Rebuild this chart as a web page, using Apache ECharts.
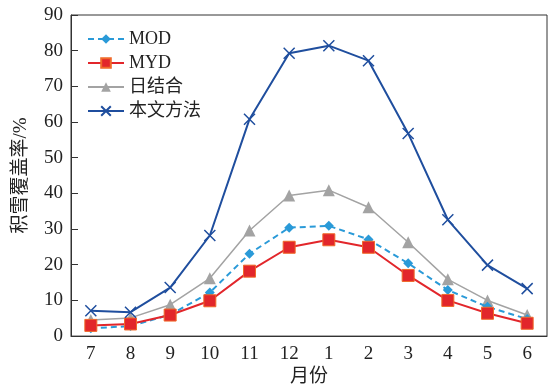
<!DOCTYPE html>
<html>
<head>
<meta charset="utf-8">
<script src="https://cdn.jsdelivr.net/npm/echarts@6/dist/echarts.min.js"></script>
<style>
  html, body { margin: 0; padding: 0; background: #fff; }
</style>
</head>
<body>
<div id="chart" style="width: 548px; height: 392px;"></div>
<script>
const months = ['7', '8', '9', '10', '11', '12', '1', '2', '3', '4', '5', '6'];
const modData = [2.2, 2.8, 6.0, 12.2, 23.1, 30.4, 30.9, 27.1, 20.4, 12.9, 8.2, 4.8];
const mydData = [3.0, 3.4, 5.9, 9.9, 18.2, 24.9, 27.0, 24.9, 17.0, 10.0, 6.4, 3.6];
const dayData = [4.5, 5.1, 8.8, 16.2, 29.6, 39.4, 40.9, 36.1, 26.3, 15.9, 10.0, 5.9];
const oursData = [7.1, 6.7, 13.6, 28.2, 60.8, 79.3, 81.4, 77.2, 56.8, 32.6, 19.9, 13.3];
const yTicks = [0, 10, 20, 30, 40, 50, 60, 70, 80, 90];

const font = "'Liberation Serif', 'Noto Sans CJK SC', serif";
const cross = 'path://M0,0L10,10M10,0L0,10';

const option = {
    animation: false,
    textStyle: { fontFamily: font },
    grid: {
        left: 71, top: 15, right: 1, bottom: 54,
        show: true, borderColor: '#333', borderWidth: 1
    },
    legend: {
        orient: 'vertical',
        left: 82, top: 25,
        itemWidth: 36, itemHeight: 12, itemGap: 6,
        textStyle: { fontFamily: font, fontSize: 18, color: '#222' },
        data: ['MOD', 'MYD', '日结合', '本文方法']
    },
    xAxis: {
        type: 'category',
        data: months,
        boundaryGap: true,
        name: '月份',
        nameLocation: 'middle',
        nameGap: 30,
        nameTextStyle: { fontFamily: font, fontSize: 19, color: '#222' },
        axisLine: { lineStyle: { color: '#333', width: 1 } },
        axisTick: { inside: true, length: 5, lineStyle: { color: '#333' } },
        axisLabel: { fontFamily: font, fontSize: 19, color: '#222', margin: 8 },
        splitLine: { show: false }
    },
    yAxis: {
        type: 'value',
        min: yTicks[0], max: yTicks[yTicks.length - 1], interval: 10,
        name: '积雪覆盖率/%',
        nameLocation: 'middle',
        nameGap: 40,
        nameTextStyle: { fontFamily: font, fontSize: 19, color: '#222' },
        axisLine: { show: true, lineStyle: { color: '#333', width: 1 } },
        axisTick: { show: true, inside: true, length: 7, lineStyle: { color: '#333' } },
        axisLabel: { fontFamily: font, fontSize: 19, color: '#222', margin: 8 },
        splitLine: { show: false }
    },
    series: [
        {
            name: 'MOD', type: 'line', data: modData,
            symbol: 'diamond', symbolSize: 10,
            itemStyle: { color: '#2a9ad8' },
            lineStyle: { color: '#2a9ad8', width: 2, type: [6, 4] },
            z: 3
        },
        {
            name: 'MYD', type: 'line', data: mydData,
            symbol: 'rect', symbolSize: 12,
            itemStyle: { color: '#e2262b', borderColor: '#f06a2a', borderWidth: 1 },
            lineStyle: { color: '#e2262b', width: 2 },
            z: 4
        },
        {
            name: '日结合', type: 'line', data: dayData,
            symbol: 'triangle', symbolSize: 12,
            itemStyle: { color: '#a3a3a3' },
            lineStyle: { color: '#a3a3a3', width: 1.5 },
            z: 2
        },
        {
            name: '本文方法', type: 'line', data: oursData,
            symbol: cross, symbolSize: 11,
            itemStyle: { color: '#1f4e9e', borderColor: '#1f4e9e', borderWidth: 1.5 },
            lineStyle: { color: '#1f4e9e', width: 2 },
            z: 5
        }
    ]
};

const myChart = echarts.init(document.getElementById('chart'));
myChart.setOption(option);
</script>
</body>
</html>
